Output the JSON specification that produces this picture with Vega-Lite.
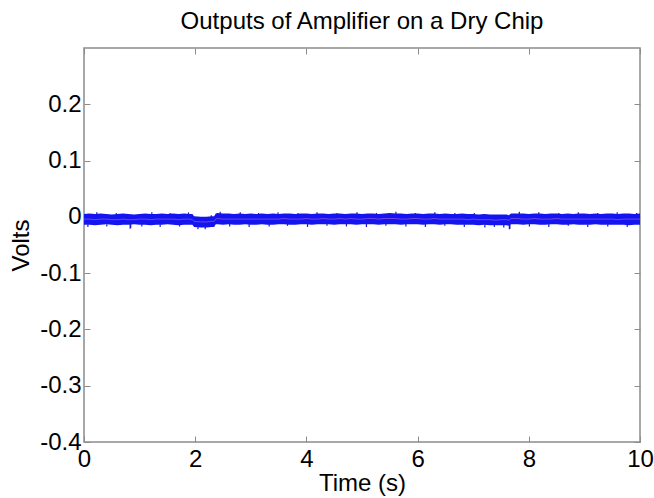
{
  "$schema": "https://vega.github.io/schema/vega-lite/v6.json",
  "width": 556,
  "height": 394,
  "autosize": {"type": "none"},
  "padding": {"left": 84, "top": 48, "right": 14, "bottom": 56},
  "background": "white",
  "title": {"text": "Outputs of Amplifier on a Dry Chip", "font": "Liberation Sans", "fontSize": 24, "fontWeight": "normal", "color": "#000000", "offset": 14, "anchor": "middle"},
  "config": {
    "view": {"stroke": "#8c8c8c", "strokeWidth": 1.5},
    "axis": {"domain": false, "grid": false, "ticks": true, "tickColor": "#8c8c8c", "tickWidth": 1, "tickSize": -6, "labelFlush": false, "labelFont": "Liberation Sans", "labelFontSize": 24, "labelColor": "#000000", "titleFont": "Liberation Sans", "titleFontSize": 24, "titleFontWeight": "normal", "titleColor": "#000000"}
  },
  "datasets": {
    "band": [
      {"t": 0.0, "hi": 0.005, "lo": -0.014, "mid": -0.004},
      {"t": 0.1, "hi": 0.006, "lo": -0.014, "mid": -0.004},
      {"t": 0.2, "hi": 0.005, "lo": -0.015, "mid": -0.005},
      {"t": 0.3, "hi": 0.006, "lo": -0.014, "mid": -0.004},
      {"t": 0.4, "hi": 0.005, "lo": -0.013, "mid": -0.004},
      {"t": 0.5, "hi": 0.004, "lo": -0.014, "mid": -0.005},
      {"t": 0.6, "hi": 0.005, "lo": -0.015, "mid": -0.005},
      {"t": 0.7, "hi": 0.006, "lo": -0.014, "mid": -0.004},
      {"t": 0.8, "hi": 0.005, "lo": -0.014, "mid": -0.005},
      {"t": 0.9, "hi": 0.004, "lo": -0.013, "mid": -0.005},
      {"t": 1.0, "hi": 0.005, "lo": -0.014, "mid": -0.004},
      {"t": 1.1, "hi": 0.006, "lo": -0.014, "mid": -0.004},
      {"t": 1.2, "hi": 0.005, "lo": -0.015, "mid": -0.005},
      {"t": 1.3, "hi": 0.005, "lo": -0.014, "mid": -0.004},
      {"t": 1.4, "hi": 0.006, "lo": -0.014, "mid": -0.004},
      {"t": 1.5, "hi": 0.005, "lo": -0.013, "mid": -0.004},
      {"t": 1.6, "hi": 0.006, "lo": -0.014, "mid": -0.004},
      {"t": 1.7, "hi": 0.005, "lo": -0.015, "mid": -0.005},
      {"t": 1.8, "hi": 0.006, "lo": -0.014, "mid": -0.004},
      {"t": 1.9, "hi": 0.005, "lo": -0.014, "mid": -0.004},
      {"t": 1.95, "hi": 0.005, "lo": -0.014, "mid": -0.005},
      {"t": 1.98, "hi": 0.001, "lo": -0.018, "mid": -0.008},
      {"t": 2.1, "hi": 0.0, "lo": -0.019, "mid": -0.009},
      {"t": 2.2, "hi": 0.0, "lo": -0.019, "mid": -0.009},
      {"t": 2.3, "hi": 0.001, "lo": -0.018, "mid": -0.008},
      {"t": 2.34, "hi": 0.001, "lo": -0.018, "mid": -0.008},
      {"t": 2.37, "hi": 0.006, "lo": -0.013, "mid": -0.004},
      {"t": 2.4, "hi": 0.007, "lo": -0.013, "mid": -0.003},
      {"t": 2.5, "hi": 0.006, "lo": -0.014, "mid": -0.004},
      {"t": 2.6, "hi": 0.006, "lo": -0.013, "mid": -0.004},
      {"t": 2.7, "hi": 0.005, "lo": -0.014, "mid": -0.004},
      {"t": 2.8, "hi": 0.006, "lo": -0.014, "mid": -0.004},
      {"t": 2.9, "hi": 0.005, "lo": -0.013, "mid": -0.004},
      {"t": 3.0, "hi": 0.006, "lo": -0.014, "mid": -0.004},
      {"t": 3.1, "hi": 0.005, "lo": -0.014, "mid": -0.004},
      {"t": 3.2, "hi": 0.006, "lo": -0.013, "mid": -0.004},
      {"t": 3.3, "hi": 0.005, "lo": -0.014, "mid": -0.004},
      {"t": 3.4, "hi": 0.006, "lo": -0.014, "mid": -0.004},
      {"t": 3.5, "hi": 0.005, "lo": -0.013, "mid": -0.004},
      {"t": 3.6, "hi": 0.006, "lo": -0.013, "mid": -0.003},
      {"t": 3.7, "hi": 0.006, "lo": -0.014, "mid": -0.004},
      {"t": 3.8, "hi": 0.005, "lo": -0.014, "mid": -0.004},
      {"t": 3.9, "hi": 0.006, "lo": -0.013, "mid": -0.004},
      {"t": 4.0, "hi": 0.006, "lo": -0.013, "mid": -0.003},
      {"t": 4.1, "hi": 0.005, "lo": -0.014, "mid": -0.004},
      {"t": 4.2, "hi": 0.006, "lo": -0.013, "mid": -0.004},
      {"t": 4.3, "hi": 0.006, "lo": -0.013, "mid": -0.003},
      {"t": 4.4, "hi": 0.005, "lo": -0.013, "mid": -0.004},
      {"t": 4.5, "hi": 0.006, "lo": -0.014, "mid": -0.004},
      {"t": 4.6, "hi": 0.006, "lo": -0.013, "mid": -0.003},
      {"t": 4.7, "hi": 0.005, "lo": -0.013, "mid": -0.004},
      {"t": 4.8, "hi": 0.006, "lo": -0.013, "mid": -0.003},
      {"t": 4.9, "hi": 0.006, "lo": -0.014, "mid": -0.004},
      {"t": 5.0, "hi": 0.005, "lo": -0.013, "mid": -0.004},
      {"t": 5.1, "hi": 0.006, "lo": -0.013, "mid": -0.003},
      {"t": 5.2, "hi": 0.006, "lo": -0.013, "mid": -0.003},
      {"t": 5.3, "hi": 0.005, "lo": -0.014, "mid": -0.004},
      {"t": 5.4, "hi": 0.006, "lo": -0.013, "mid": -0.003},
      {"t": 5.5, "hi": 0.007, "lo": -0.013, "mid": -0.003},
      {"t": 5.6, "hi": 0.006, "lo": -0.013, "mid": -0.003},
      {"t": 5.7, "hi": 0.006, "lo": -0.014, "mid": -0.004},
      {"t": 5.8, "hi": 0.005, "lo": -0.013, "mid": -0.004},
      {"t": 5.9, "hi": 0.006, "lo": -0.013, "mid": -0.003},
      {"t": 6.0, "hi": 0.006, "lo": -0.013, "mid": -0.003},
      {"t": 6.1, "hi": 0.005, "lo": -0.014, "mid": -0.004},
      {"t": 6.2, "hi": 0.006, "lo": -0.013, "mid": -0.004},
      {"t": 6.3, "hi": 0.006, "lo": -0.013, "mid": -0.003},
      {"t": 6.4, "hi": 0.005, "lo": -0.014, "mid": -0.004},
      {"t": 6.5, "hi": 0.006, "lo": -0.013, "mid": -0.004},
      {"t": 6.6, "hi": 0.005, "lo": -0.013, "mid": -0.004},
      {"t": 6.7, "hi": 0.005, "lo": -0.014, "mid": -0.004},
      {"t": 6.8, "hi": 0.006, "lo": -0.014, "mid": -0.004},
      {"t": 6.9, "hi": 0.005, "lo": -0.014, "mid": -0.005},
      {"t": 7.0, "hi": 0.005, "lo": -0.014, "mid": -0.004},
      {"t": 7.1, "hi": 0.004, "lo": -0.015, "mid": -0.005},
      {"t": 7.2, "hi": 0.005, "lo": -0.014, "mid": -0.005},
      {"t": 7.3, "hi": 0.004, "lo": -0.015, "mid": -0.005},
      {"t": 7.4, "hi": 0.004, "lo": -0.015, "mid": -0.006},
      {"t": 7.5, "hi": 0.004, "lo": -0.015, "mid": -0.005},
      {"t": 7.6, "hi": 0.004, "lo": -0.015, "mid": -0.005},
      {"t": 7.64, "hi": 0.003, "lo": -0.016, "mid": -0.006},
      {"t": 7.68, "hi": 0.006, "lo": -0.013, "mid": -0.003},
      {"t": 7.8, "hi": 0.006, "lo": -0.013, "mid": -0.003},
      {"t": 7.9, "hi": 0.006, "lo": -0.014, "mid": -0.004},
      {"t": 8.0, "hi": 0.005, "lo": -0.013, "mid": -0.004},
      {"t": 8.1, "hi": 0.006, "lo": -0.013, "mid": -0.003},
      {"t": 8.2, "hi": 0.006, "lo": -0.014, "mid": -0.004},
      {"t": 8.3, "hi": 0.005, "lo": -0.014, "mid": -0.004},
      {"t": 8.4, "hi": 0.006, "lo": -0.013, "mid": -0.004},
      {"t": 8.5, "hi": 0.006, "lo": -0.013, "mid": -0.003},
      {"t": 8.6, "hi": 0.005, "lo": -0.014, "mid": -0.004},
      {"t": 8.7, "hi": 0.006, "lo": -0.014, "mid": -0.004},
      {"t": 8.8, "hi": 0.005, "lo": -0.013, "mid": -0.004},
      {"t": 8.9, "hi": 0.006, "lo": -0.014, "mid": -0.004},
      {"t": 9.0, "hi": 0.006, "lo": -0.014, "mid": -0.004},
      {"t": 9.1, "hi": 0.005, "lo": -0.014, "mid": -0.004},
      {"t": 9.2, "hi": 0.006, "lo": -0.013, "mid": -0.004},
      {"t": 9.3, "hi": 0.005, "lo": -0.014, "mid": -0.004},
      {"t": 9.4, "hi": 0.006, "lo": -0.014, "mid": -0.004},
      {"t": 9.5, "hi": 0.006, "lo": -0.014, "mid": -0.004},
      {"t": 9.6, "hi": 0.005, "lo": -0.014, "mid": -0.005},
      {"t": 9.7, "hi": 0.006, "lo": -0.014, "mid": -0.004},
      {"t": 9.8, "hi": 0.006, "lo": -0.015, "mid": -0.004},
      {"t": 9.9, "hi": 0.005, "lo": -0.014, "mid": -0.004},
      {"t": 10.0, "hi": 0.006, "lo": -0.014, "mid": -0.004}
    ],
    "spikes": [
      {"t": 0.07, "a": -0.013, "b": -0.018},
      {"t": 0.23, "a": 0.004, "b": 0.008},
      {"t": 0.41, "a": -0.013, "b": -0.017},
      {"t": 0.58, "a": 0.004, "b": 0.007},
      {"t": 0.83, "a": -0.010, "b": -0.021},
      {"t": 0.84, "a": -0.010, "b": -0.020},
      {"t": 1.04, "a": -0.013, "b": -0.017},
      {"t": 1.22, "a": 0.004, "b": 0.008},
      {"t": 1.37, "a": -0.013, "b": -0.018},
      {"t": 1.55, "a": 0.004, "b": 0.007},
      {"t": 1.72, "a": -0.013, "b": -0.017},
      {"t": 1.88, "a": 0.004, "b": 0.008},
      {"t": 2.05, "a": -0.018, "b": -0.022},
      {"t": 2.18, "a": -0.018, "b": -0.022},
      {"t": 2.29, "a": -0.001, "b": 0.003},
      {"t": 2.45, "a": 0.005, "b": 0.009},
      {"t": 2.62, "a": -0.012, "b": -0.017},
      {"t": 2.81, "a": 0.004, "b": 0.008},
      {"t": 2.97, "a": -0.012, "b": -0.018},
      {"t": 3.14, "a": 0.004, "b": 0.007},
      {"t": 3.33, "a": -0.012, "b": -0.017},
      {"t": 3.49, "a": 0.004, "b": 0.008},
      {"t": 3.66, "a": -0.012, "b": -0.016},
      {"t": 3.85, "a": 0.004, "b": 0.007},
      {"t": 4.02, "a": -0.012, "b": -0.018},
      {"t": 4.19, "a": 0.004, "b": 0.008},
      {"t": 4.37, "a": -0.012, "b": -0.016},
      {"t": 4.55, "a": 0.004, "b": 0.007},
      {"t": 4.72, "a": -0.012, "b": -0.017},
      {"t": 4.91, "a": 0.004, "b": 0.008},
      {"t": 5.08, "a": -0.012, "b": -0.018},
      {"t": 5.26, "a": 0.004, "b": 0.007},
      {"t": 5.43, "a": -0.012, "b": -0.016},
      {"t": 5.61, "a": 0.005, "b": 0.009},
      {"t": 5.79, "a": -0.012, "b": -0.017},
      {"t": 5.96, "a": 0.004, "b": 0.007},
      {"t": 6.14, "a": -0.012, "b": -0.018},
      {"t": 6.31, "a": 0.004, "b": 0.008},
      {"t": 6.49, "a": -0.012, "b": -0.016},
      {"t": 6.67, "a": 0.004, "b": 0.007},
      {"t": 6.84, "a": -0.013, "b": -0.018},
      {"t": 7.02, "a": 0.004, "b": 0.007},
      {"t": 7.21, "a": -0.013, "b": -0.019},
      {"t": 7.38, "a": -0.014, "b": -0.018},
      {"t": 7.55, "a": -0.014, "b": -0.019},
      {"t": 7.65, "a": -0.012, "b": -0.022},
      {"t": 7.66, "a": -0.012, "b": -0.021},
      {"t": 7.83, "a": 0.005, "b": 0.009},
      {"t": 8.01, "a": -0.012, "b": -0.017},
      {"t": 8.18, "a": 0.004, "b": 0.008},
      {"t": 8.36, "a": -0.012, "b": -0.018},
      {"t": 8.54, "a": 0.004, "b": 0.007},
      {"t": 8.71, "a": -0.012, "b": -0.016},
      {"t": 8.89, "a": 0.004, "b": 0.008},
      {"t": 9.06, "a": -0.013, "b": -0.018},
      {"t": 9.24, "a": 0.004, "b": 0.007},
      {"t": 9.42, "a": -0.013, "b": -0.017},
      {"t": 9.59, "a": 0.004, "b": 0.008},
      {"t": 9.77, "a": -0.013, "b": -0.018},
      {"t": 9.94, "a": 0.004, "b": 0.007}
    ]
  },
  "layer": [
    {
      "data": {"name": "band"},
      "mark": {"type": "area", "color": "#1414f0", "opacity": 1, "clip": true},
      "encoding": {
        "x": {"field": "t", "type": "quantitative", "scale": {"domain": [0, 10], "nice": false, "zero": false},
              "axis": {"orient": "bottom", "values": [0, 2, 4, 6, 8, 10], "labelPadding": 11, "title": "Time (s)", "titlePadding": 0}},
        "y": {"field": "hi", "type": "quantitative", "scale": {"domain": [-0.4, 0.3], "nice": false, "zero": false},
              "axis": {"orient": "left", "values": [-0.4, -0.3, -0.2, -0.1, 0, 0.1, 0.2], "labelPadding": 9,
                       "labelExpr": "datum.value == 0 ? '0' : (datum.value < 0 ? '-' + format(-datum.value, '.1f') : format(datum.value, '.1f'))",
                       "title": "Volts", "titlePadding": 6}},
        "y2": {"field": "lo"}
      }
    },
    {
      "data": {"name": "spikes"},
      "mark": {"type": "rule", "color": "#1a1ac8", "strokeWidth": 1.2, "clip": true},
      "encoding": {
        "x": {"field": "t", "type": "quantitative", "scale": {"domain": [0, 10], "nice": false, "zero": false},
              "axis": {"orient": "top", "values": [0, 2, 4, 6, 8, 10], "labels": false, "title": null}},
        "y": {"field": "a", "type": "quantitative", "scale": {"domain": [-0.4, 0.3], "nice": false, "zero": false},
              "axis": {"orient": "right", "values": [-0.4, -0.3, -0.2, -0.1, 0, 0.1, 0.2], "labels": false, "title": null}},
        "y2": {"field": "b"}
      }
    },
    {
      "data": {"name": "band"},
      "mark": {"type": "line", "color": "#c070d0", "strokeWidth": 1, "opacity": 0.55, "clip": true},
      "encoding": {
        "x": {"field": "t", "type": "quantitative", "axis": null},
        "y": {"field": "mid", "type": "quantitative", "axis": null}
      }
    }
  ],
  "resolve": {"axis": {"x": "independent", "y": "independent"}}
}
